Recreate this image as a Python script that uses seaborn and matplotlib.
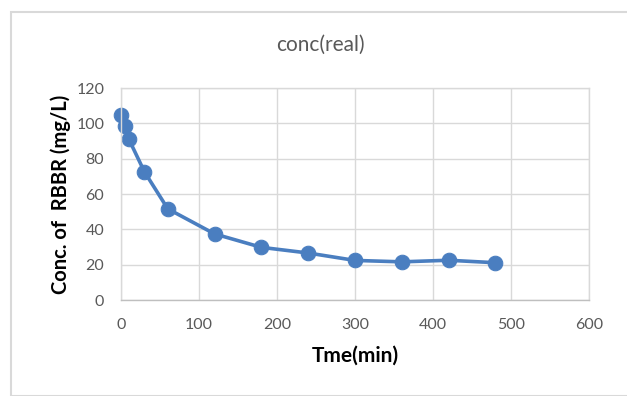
import matplotlib
matplotlib.use("Agg")
import matplotlib.pyplot as plt
import seaborn as sns
import pandas as pd
from matplotlib.patches import Rectangle

time_min = [0, 5, 10, 30, 60, 120, 180, 240, 300, 360, 420, 480]
conc = [105, 98.6, 91.1, 72.6, 51.6, 37.4, 29.8, 26.6, 22.4, 21.6, 22.5, 21.1]
x_ticks = [0, 100, 200, 300, 400, 500, 600]
y_ticks = [0, 20, 40, 60, 80, 100, 120]

df = pd.DataFrame({"t": time_min, "c": conc})

sns.set_theme(style="white")
plt.rcParams['font.family'] = ['Lato', 'DejaVu Sans']

fig = plt.figure(figsize=(6.27, 3.96), dpi=100)
fig.patch.set_facecolor("white")
fig.patches.append(Rectangle((11/627, 0), 1.0, 1 - 12/396, transform=fig.transFigure,
                             fill=False, edgecolor="#D9D9D9", linewidth=1.5))

ax = fig.add_axes([121/627, 1 - 300/396, (589 - 121)/627, (300 - 88)/396])
blue = "#4A7EC0"
sns.lineplot(data=df, x="t", y="c", ax=ax, color=blue, linewidth=2.6,
             marker="o", markersize=10.5, markeredgecolor=blue, clip_on=False)

ax.set_xlim(0, 600)
ax.set_ylim(0, 120)
ax.set_xticks(x_ticks)
ax.set_yticks(y_ticks)
ax.grid(True, color="#D9D9D9", linewidth=1)
ax.set_axisbelow(True)
for s in ["top", "right", "left"]:
    ax.spines[s].set_color("#D9D9D9")
    ax.spines[s].set_linewidth(1)
ax.spines["bottom"].set_color("#BFBFBF")
ax.spines["bottom"].set_linewidth(1)
ax.tick_params(axis="x", length=0, labelsize=11.5, labelcolor="#595959", pad=13)
ax.tick_params(axis="y", length=0, labelsize=11.5, labelcolor="#595959", pad=12)

ax.set_xlabel("Tme(min)", fontsize=15, fontweight="bold", color="black", labelpad=10)
ax.set_ylabel("Conc. of  RBBR (mg/L)", fontsize=14.5, fontweight="bold", color="black", labelpad=4)
fig.text(320/627, 1 - 45/396, "conc(real)", ha="center", va="center", fontsize=15, color="#595959")

fig.savefig("out.png", dpi=100)
